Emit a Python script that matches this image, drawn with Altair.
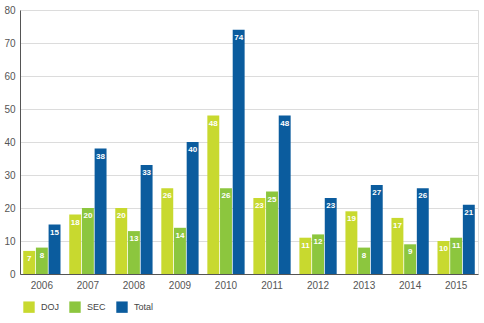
import altair as alt
import pandas as pd

years = ["2006", "2007", "2008", "2009", "2010", "2011", "2012", "2013", "2014", "2015"]
series = ["DOJ", "SEC", "Total"]
doj = [7, 18, 20, 26, 48, 23, 11, 19, 17, 10]
sec = [8, 20, 13, 14, 26, 25, 12, 8, 9, 11]
total = [15, 38, 33, 40, 74, 48, 23, 27, 26, 21]
colors = ["#c8d92f", "#8cc63e", "#0b5c9e"]
yticks = [0, 10, 20, 30, 40, 50, 60, 70, 80]

rows = []
for i, y in enumerate(years):
    for s, vals in zip(series, [doj, sec, total]):
        rows.append({"year": y, "series": s, "value": vals[i]})
df = pd.DataFrame(rows)

FONT = "Liberation Sans"

x = alt.X("year:N", title=None,
          scale=alt.Scale(paddingInner=0.19, paddingOuter=0.07),
          axis=alt.Axis(labelAngle=0, ticks=False, labelPadding=6, labelFontSize=10,
                        labelColor="#555", labelFont=FONT, domainColor="#555", domainWidth=1))
y = alt.Y("value:Q", title=None,
          scale=alt.Scale(domain=[0, 80]),
          axis=alt.Axis(values=yticks, ticks=False, labelPadding=5, labelOverlap=False,
                        labelFontSize=10, labelColor="#555", labelFont=FONT,
                        domainColor="#555", gridColor="#dcdcdc", gridWidth=1))
color = alt.Color("series:N", title=None,
                  scale=alt.Scale(domain=series, range=colors),
                  legend=alt.Legend(orient="none", legendX=3, legendY=291, direction="horizontal",
                                    symbolType="square", symbolSize=130, symbolStrokeWidth=0,
                                    symbolOpacity=1, labelFontSize=9, labelFont=FONT,
                                    labelColor="#444", columnPadding=10, labelOffset=6))
xo = alt.XOffset("series:N", scale=alt.Scale(domain=series, paddingInner=0.06))

base = alt.Chart(df).encode(x=x, xOffset=xo, y=y)
bars = base.mark_bar().encode(color=color)
labels = base.mark_text(baseline="top", dy=4, fontSize=8, fontWeight="bold", color="white",
                        font=FONT).encode(text="value:Q")

chart = (bars + labels).properties(
    width=458, height=264,
    padding={"left": 20, "top": 10, "right": 6, "bottom": 49},
    autosize=alt.AutoSizeParams(type="none"),
).configure_view(stroke=None).configure(background="white")

chart.save("out.html", embed_options={"renderer": "svg", "actions": False})
